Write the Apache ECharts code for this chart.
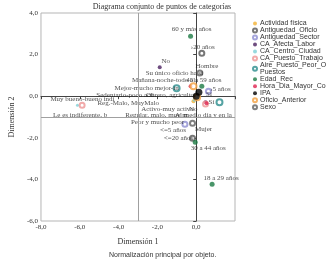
<!DOCTYPE html>
<html>
<head>
<meta charset="utf-8">
<script src="https://cdn.jsdelivr.net/npm/echarts@6/dist/echarts.min.js"></script>
<style>
  html, body { margin: 0; padding: 0; background: #fff; }
  #chart { width: 326px; height: 263px; }
</style>
</head>
<body>
<div id="chart"></div>
<script>
// category points: [dimension 1, dimension 2, label]
const actividadFisica = [[0.00, -0.05, "Sedentario-poco acti"], [-0.14, -0.24, "Activo-muy activo"]];
const antiguedadOficio = [[0.29, 2.07, "›20 años"], [-0.19, -2.02, "<=20 años"]];
const antiguedadSector = [[-0.58, -1.35, "<=5 años"], [0.63, 0.24, "›5 años"]];
const caAfectaLabor = [[-1.88, 1.39, "No"], [0.48, -0.29, "Sí"]];
const caCentroCiudad = [[-6.12, -0.43, "Muy bueno-bueno indi"], [-0.10, -0.19, "Reg.-Malo, MuyMalo"]];
const caPuestoTrabajo = [[-5.88, -0.43, "Le es indiferente, b"], [0.48, -0.38, "Regular, malo, muy m"]];
const airePuesto = [[-1.01, 0.38, "Mejor-mucho mejor-in"], [1.20, -0.29, "Peor y mucho peor"]];
const edadRec = [[-0.29, 2.88, "60 y más años"], [0.29, 0.48, "45 a 59 años"], [-0.05, -2.21, "30 a 44 años"], [0.82, -4.23, "18 a 29 años"]];
const horaDia = [[-0.29, 0.48, "Mañana-noche-todo el"], [0.53, -0.34, "Al medio día y en la"]];
const ipa = [[0.14, 0.19, "Sí"], [0.00, 0.00, "No"]];
const oficioAnterior = [[-0.14, 0.48, "Su único oficio ha si"], [0.05, -0.05, "Obrero, agricultor"]];
const sexo = [[0.19, 1.11, "Hombre"], [-0.19, -1.30, "Mujer"]];

const seriesNames = ["Actividad física", "Antiguedad_Oficio", "Antiguedad_Sector", "CA_Afecta_Labor",
  "CA_Centro_Ciudad", "CA_Puesto_Trabajo", "Aire_Puesto_Peor_Otros_Puestos", "Edad_Rec",
  "Hora_Dia_Mayor_Cont_Aire", "IPA", "Oficio_Anterior", "Sexo"];
const seriesData = [actividadFisica, antiguedadOficio, antiguedadSector, caAfectaLabor, caCentroCiudad,
  caPuestoTrabajo, airePuesto, edadRec, horaDia, ipa, oficioAnterior, sexo];

const refX = -3;
const refY = -1;

// look of each series: color, symbol, size
const looks = [
  ["#f2b233", "circle", 4],
  ["#555555", "emptyCircle", 5],
  ["#8e8ed2", "emptyCircle", 5],
  ["#4b2060", "circle", 4],
  ["#7ccfd6", "circle", 3],
  ["#ee9595", "emptyCircle", 5],
  ["#2a8c8c", "emptyCircle", 6],
  ["#1b7a43", "circle", 5],
  ["#de2450", "circle", 4],
  ["#000000", "circle", 7],
  ["#f2a040", "emptyCircle", 6],
  ["#606060", "emptyCircle", 5]
];

// label centre relative to its point (pixels), per series
const labelOffsets = [
  [[-71, -2], [-26, 8]],
  [[1, -6], [-14, 0]],
  [[-12, 6], [12, -2]],
  [[6, -6], [6, 0]],
  [[5, -6], [-66, 3]],
  [[-2, 10], [-49, 11]],
  [[-30, 0], [-62, 20]],
  [[1, -7], [2, -6], [13, 6], [9, -6]],
  [[-27, -6], [-3, 12]],
  [[10, 2], [-3, 13]],
  [[-19, -13], [-26, -2]],
  [[7, -7], [11, 6]]
];

const fmt = v => v.toFixed(1).replace(".", ",");
const serif = "Liberation Serif";

const series = seriesNames.map((name, i) => ({
  name: name,
  type: "scatter",
  symbol: looks[i][1],
  symbolSize: looks[i][2],
  itemStyle: { color: looks[i][0], borderWidth: 1 },
  z: i === 9 ? 5 : 3,
  data: seriesData[i].map((p, j) => ({
    value: [p[0], p[1]],
    label: {
      show: true,
      formatter: p[2],
      position: "inside",
      offset: labelOffsets[i][j],
      align: "center",
      verticalAlign: "middle",
      fontFamily: serif,
      fontSize: 7,
      color: "#222"
    }
  }))
}));

series.push({
  type: "line",
  data: [],
  markLine: {
    silent: true,
    symbol: "none",
    label: { show: false },
    lineStyle: { color: "#a0a0a0", type: "solid", width: 1 },
    data: [{ xAxis: refX }, { yAxis: refY }]
  }
});

const chart = echarts.init(document.getElementById("chart"));
chart.setOption({
  animation: false,
  title: {
    text: "Diagrama conjunto de puntos de categorías",
    left: 157,
    textAlign: "center",
    top: -2,
    textStyle: { fontFamily: serif, fontSize: 8, fontWeight: "normal", color: "#333" }
  },
  grid: {
    left: 27, right: 91, top: 13, bottom: 42,
    show: true, borderColor: "#b5b5b5", borderWidth: 1
  },
  legend: {
    orient: "vertical",
    left: 247,
    top: 15,
    itemWidth: 4,
    itemHeight: 4,
    itemGap: 0,
    itemStyle: { borderWidth: 1 },
    data: seriesNames,
    formatter: n => n === "Aire_Puesto_Peor_Otros_Puestos" ? "Aire_Puesto_Peor_Otros_\nPuestos" : n,
    textStyle: { fontFamily: "Liberation Sans", fontSize: 7, lineHeight: 6.7, color: "#333", padding: [0, 0, 0, -2] }
  },
  xAxis: {
    type: "value",
    min: -8, max: 2, interval: 2,
    name: "Dimensión 1",
    nameLocation: "middle",
    nameGap: 17,
    nameTextStyle: { fontFamily: serif, fontSize: 8, color: "#333" },
    axisLine: { show: true, lineStyle: { color: "#444" } },
    axisTick: { show: true, length: 3, lineStyle: { color: "#444" } },
    axisLabel: {
      fontFamily: serif, fontSize: 7, color: "#333", margin: 3,
      formatter: v => v > 0 ? "" : fmt(v)
    },
    splitLine: { show: false }
  },
  yAxis: {
    type: "value",
    min: -6, max: 4, interval: 2,
    name: "Dimensión 2",
    nameLocation: "middle",
    nameGap: 19,
    nameTextStyle: { fontFamily: serif, fontSize: 8, color: "#333" },
    axisLine: { show: true, lineStyle: { color: "#444" } },
    axisTick: { show: true, length: 3, lineStyle: { color: "#444" } },
    axisLabel: { fontFamily: serif, fontSize: 7, color: "#333", margin: 3, formatter: v => fmt(v) },
    splitLine: { show: false }
  },
  graphic: [{
    type: "text",
    left: 157 - 48,
    top: 252,
    style: { text: "Normalización principal por objeto.", fontFamily: "Liberation Sans", fontSize: 7, fill: "#333" }
  }],
  series: series
});
</script>
</body>
</html>
